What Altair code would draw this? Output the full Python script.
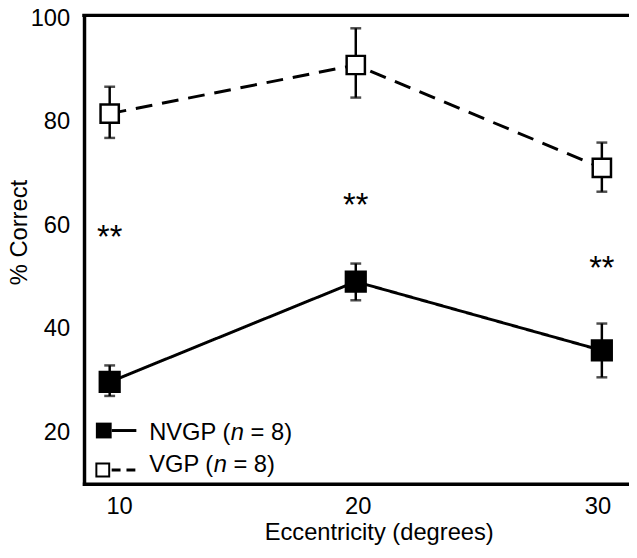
import altair as alt
import pandas as pd

# ---- data ----
ecc = [10, 20, 30]
nvgp_mean = [29.7, 49.1, 35.8]
nvgp_lo = [27.0, 45.5, 30.6]
nvgp_hi = [32.9, 52.6, 41.0]
vgp_mean = [81.6, 91.0, 71.1]
vgp_lo = [76.9, 84.7, 66.5]
vgp_hi = [86.8, 98.1, 76.0]
sig_y = [59.0, 65.3, 53.0]
sig_text = ["**", "**", "**"]
x_ticks = [10, 20, 30]
y_ticks = [20, 40, 60, 80, 100]
groups = ["NVGP", "VGP"]
group_n = [8, 8]

rows = []
for g, m, lo, hi in [("NVGP", nvgp_mean, nvgp_lo, nvgp_hi),
                     ("VGP", vgp_mean, vgp_lo, vgp_hi)]:
    for e, a, b, c in zip(ecc, m, lo, hi):
        rows.append(dict(group=g, ecc=e, mean=a, lo=b, hi=c))
df = pd.DataFrame(rows)
sig = pd.DataFrame({"ecc": ecc, "y": sig_y, "t": sig_text})
one = pd.DataFrame({"k": [0]})

W, H = 552, 474.5
FONT = "Liberation Sans"

xs = alt.Scale(domain=[8.957, 31.103], nice=False, zero=False)
ys = alt.Scale(domain=[10, 100.6], nice=False, zero=False)

x_axis = alt.Axis(
    values=x_ticks, title="Eccentricity (degrees)", grid=False, ticks=False,
    domainColor="black", domainWidth=3.5, domainCap="square",
    labelFont=FONT, labelFontSize=24, labelColor="black",
    labelBaseline="alphabetic", labelPadding=30,
    labelOffset={"condition": [{"test": "datum.value === 10", "value": 9.5},
                               {"test": "datum.value === 30", "value": -4.5}],
                 "value": 2},
    titleFont=FONT, titleFontSize=24, titleFontWeight="normal", titleColor="black",
    titleX=298.5, titleY=56, titleBaseline="alphabetic", titleAlign="center",
)
y_axis = alt.Axis(
    values=y_ticks, title="% Correct", grid=False, ticks=False,
    domainColor="black", domainWidth=3.5, domainCap="square",
    labelFont=FONT, labelFontSize=24, labelColor="black", labelPadding=14.5,
    titleFont=FONT, titleFontSize=24, titleFontWeight="normal", titleColor="black",
    titleX=-58, titleY=219.5, titleAngle=270, titleBaseline="alphabetic",
    titleAlign="center",
)

X = alt.X("ecc:Q", scale=xs, axis=x_axis)
base = alt.Chart(df)

lines = base.mark_line(strokeWidth=3, color="black").encode(
    x=X,
    y=alt.Y("mean:Q", scale=ys, axis=y_axis),
    detail="group:N",
    strokeDash=alt.StrokeDash("group:N", scale=alt.Scale(domain=groups, range=[[1, 0], [17, 10]]), legend=None),
)
err = base.mark_rule(strokeWidth=2.5, color="black").encode(
    x=alt.X("ecc:Q", scale=xs), y=alt.Y("lo:Q", scale=ys), y2="hi:Q")
cap_lo = base.mark_tick(orient="horizontal", size=11, thickness=2.5, color="black").encode(
    x=alt.X("ecc:Q", scale=xs), y=alt.Y("lo:Q", scale=ys))
cap_hi = base.mark_tick(orient="horizontal", size=11, thickness=2.5, color="black").encode(
    x=alt.X("ecc:Q", scale=xs), y=alt.Y("hi:Q", scale=ys))

sq_n = base.transform_filter(alt.datum.group == "NVGP").mark_point(
    shape="square", filled=True, fill="black", stroke="black", strokeWidth=2, size=420, opacity=1
).encode(x=alt.X("ecc:Q", scale=xs), y=alt.Y("mean:Q", scale=ys))
sq_v = base.transform_filter(alt.datum.group == "VGP").mark_point(
    shape="square", filled=True, fill="white", stroke="black", strokeWidth=2.5, size=342, opacity=1
).encode(x=alt.X("ecc:Q", scale=xs), y=alt.Y("mean:Q", scale=ys))

stars = alt.Chart(sig).mark_text(font=FONT, fontSize=33, baseline="alphabetic", dy=18, color="black").encode(
    x=alt.X("ecc:Q", scale=xs), y=alt.Y("y:Q", scale=ys), text="t:N")

top = alt.Chart(one).mark_rule(strokeWidth=3.5, color="black").encode(
    x=alt.value(-1.75), x2=alt.value(W + 2), y=alt.value(0))

# ---- manual legend ----
leg = []
leg.append(alt.Chart(one).mark_point(shape="square", filled=True, fill="black", size=256, opacity=1)
           .encode(x=alt.value(20), y=alt.value(420.5)))
leg.append(alt.Chart(one).mark_rule(strokeWidth=3, color="black")
           .encode(x=alt.value(28), x2=alt.value(53), y=alt.value(420.5)))
leg.append(alt.Chart(one).mark_point(shape="square", filled=True, fill="white", stroke="black",
                                     strokeWidth=2, size=169, opacity=1)
           .encode(x=alt.value(19), y=alt.value(460.5)))
leg.append(alt.Chart(one).mark_rule(strokeWidth=3, color="black", strokeDash=[9, 6])
           .encode(x=alt.value(28), x2=alt.value(53), y=alt.value(460.5)))

text_rows = [(groups[0], group_n[0], 430, 82.68), (groups[1], group_n[1], 463, 65.35)]
for g, n, yb, w1 in text_rows:
    leg.append(alt.Chart(one).mark_text(text=f"{g} (", font=FONT, fontSize=24, align="left",
                                        baseline="alphabetic", color="black")
               .encode(x=alt.value(66), y=alt.value(yb)))
    leg.append(alt.Chart(one).mark_text(text="n", font=FONT, fontSize=24, fontStyle="italic",
                                        align="left", baseline="alphabetic", color="black")
               .encode(x=alt.value(66 + w1), y=alt.value(yb)))
    leg.append(alt.Chart(one).mark_text(text=f"= {n})", font=FONT, fontSize=24, align="left",
                                        baseline="alphabetic", color="black")
               .encode(x=alt.value(66 + w1 + 13.34 + 6.67), y=alt.value(yb)))

chart = alt.layer(lines, err, cap_lo, cap_hi, sq_n, sq_v, stars, top, *leg).properties(
    width=W, height=H,
    autosize=alt.AutoSizeParams(type="none"),
    padding={"left": 77, "top": 4, "right": 0, "bottom": 60},
    background="white",
).configure_view(strokeWidth=0)

chart.save("out.html", embed_options={"renderer": "svg", "actions": False})
